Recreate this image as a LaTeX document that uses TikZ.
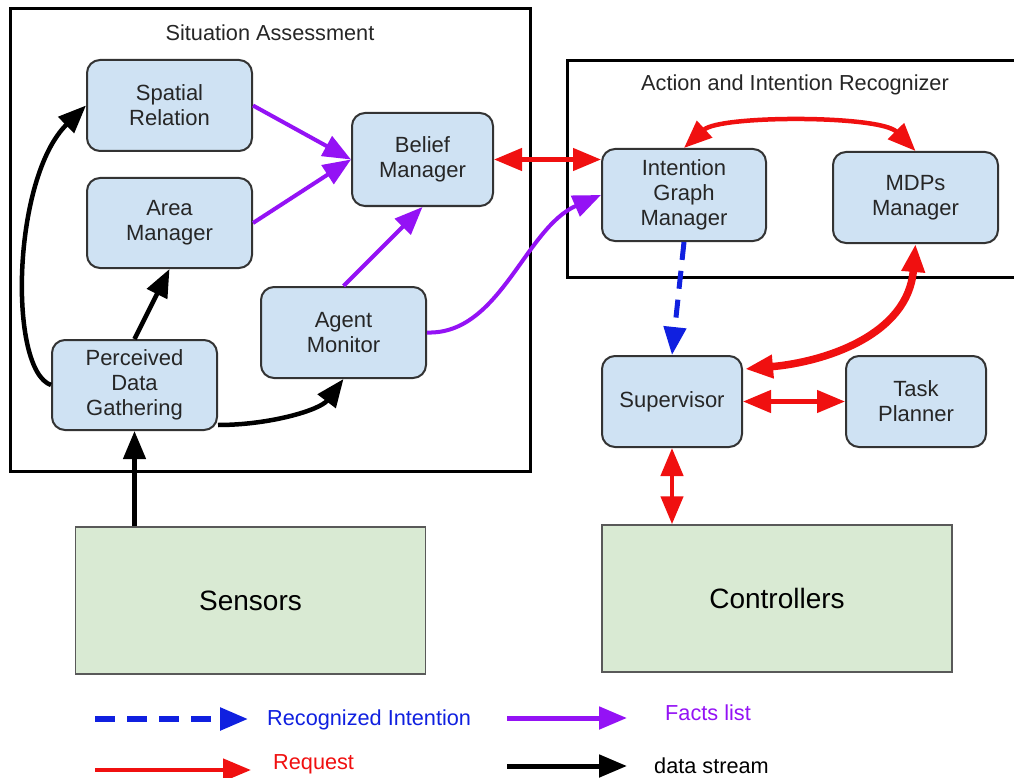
\documentclass[tikz,border=0pt]{standalone}
\usepackage{fontspec}
\setmainfont{Liberation Sans}
\usetikzlibrary{arrows.meta,calc}
\definecolor{boxblue}{HTML}{CFE2F3}
\definecolor{boxgreen}{HTML}{D9EAD3}
\definecolor{edgegray}{HTML}{333333}
\definecolor{factpurple}{HTML}{9412F5}
\definecolor{reqred}{HTML}{F01010}
\definecolor{intblue}{HTML}{1020E0}
\tikzset{
  x=1pt, y=1pt,
  comp/.style={draw=edgegray, line width=2pt, fill=boxblue, rounded corners=13pt,
    align=center, inner sep=0pt, text=black!85,
    font=\fontsize{22}{25}\selectfont},
  io/.style={draw=black!65, line width=1.5pt, fill=boxgreen, inner sep=0pt,
    minimum width=350pt, minimum height=147pt, font=\fontsize{28}{32}\selectfont},
  frame/.style={draw=black, line width=3pt},
  ftitle/.style={font=\fontsize{21.7}{24}\selectfont, text=black!85},
  tipa/.tip={Triangle[length=28pt,width=22pt]},
  facts/.style={draw=factpurple, line width=4pt, -tipa, fill=none},
  datas/.style={draw=black, line width=4.5pt, -tipa},
  reqs/.style={draw=reqred, line width=4.5pt, tipa-tipa},
  reqone/.style={draw=reqred, line width=4.5pt, -tipa},
  intent/.style={draw=intblue, line width=5pt, dash pattern=on 18pt off 11pt, -tipa},
  legtext/.style={font=\fontsize{21.7}{25}\selectfont, anchor=west, inner sep=0pt},
}
\begin{document}
\begin{tikzpicture}
\useasboundingbox (0,0) rectangle (1014,-778);
\fill[white] (0,0) rectangle (1014,-778);
\begin{scope}
\clip (0,0) rectangle (1014,-778);
% frames
\draw[frame] (10,-9) rectangle (530,-471);
\draw[frame] (567,-61) rectangle (1030,-277);
\end{scope}
\node[ftitle] (satitle) at (270,-33) {Situation Assessment};
\node[ftitle] (airtitle) at (795,-85) {Action and Intention Recognizer};

% components
\node[comp, minimum width=165pt, minimum height=91pt] (sp) at (169.5,-105.5) {Spatial\\Relation};
\node[comp, minimum width=165pt, minimum height=90pt] (am) at (169.5,-223) {Area\\Manager};
\node[comp, minimum width=141pt, minimum height=93pt] (bm) at (422.5,-159.5) {Belief\\Manager};
\node[comp, minimum width=165pt, minimum height=91pt] (ag) at (343.5,-332.5) {Agent\\Monitor};
\node[comp, minimum width=165pt, minimum height=90pt] (pd) at (134.5,-385) {Perceived\\Data\\Gathering};
\node[comp, minimum width=164pt, minimum height=92pt] (ig) at (684,-195) {Intention\\Graph\\Manager};
\node[comp, minimum width=165pt, minimum height=91pt] (md) at (915.5,-197.5) {MDPs\\Manager};
\node[comp, minimum width=140pt, minimum height=91pt] (sv) at (672,-401.5) {Supervisor};
\node[comp, minimum width=140pt, minimum height=91pt] (tp) at (916,-401.5) {Task\\Planner};
\node[io] (sn) at (250.5,-600.5) {Sensors};
\node[io] (ct) at (777,-598.5) {Controllers};

% facts list (purple)
\draw[facts] (sp.east) -- (bm.west);
\draw[facts] (am.east) -- (bm.west);
\draw[facts] (ag.north) -- (bm.south);
\draw[facts] (ag.east) .. controls (500,-335) and (525,-228) .. (ig.west);

% data stream (black)
\draw[datas] (pd.south |- sn.north) -- (pd.south);
\draw[datas] (pd.north) -- (am.south);
\draw[datas] (pd.west) .. controls (8,-370) and (12,-178) .. (sp.west);
\coordinate (pdout) at ($(pd.east)+(0,-40)$);
\draw[datas] (pdout) .. controls (270,-425) and (320,-410) .. (ag.south);

% requests (red)
\draw[reqs] (bm.east) -- (bm.east -| ig.west);
\draw[reqs] (ig.north) .. controls (720,-115) and (880,-115) .. (md.north);
\coordinate (svin) at ($(sv.north east)+(2,-14)$);
\draw[reqs, line width=7.5pt] (md.south) .. controls (908,-335) and (825,-362) .. (svin);
\draw[reqs] (sv.east) -- (tp.west);
\draw[reqs] (sv.south) -- (sv.south |- ct.north);

% recognized intention (blue dashed)
\draw[intent] (ig.south) -- (sv.north);

% legend
\coordinate (l1a) at (95,-719);
\coordinate (l1b) at (248,-719);
\coordinate (l2a) at (95,-770);
\coordinate (l2b) at (251,-770);
\coordinate (l3a) at (507,-718);
\coordinate (l3b) at (627,-718);
\coordinate (l4a) at (507,-766);
\coordinate (l4b) at (627,-766);
\draw[intent, line width=5.5pt, dash pattern=on 20pt off 12pt] (l1a) -- (l1b);
\draw[reqone] (l2a) -- (l2b);
\draw[facts, line width=5pt] (l3a) -- (l3b);
\draw[datas, line width=5pt] (l4a) -- (l4b);
\node[legtext, text=intblue] (t1) at (267,-720) {Recognized Intention};
\node[legtext, text=reqred] (t2) at (273,-764) {Request};
\node[legtext, text=factpurple] (t3) at (665,-713) {Facts list};
\node[legtext, text=black] (t4) at (654,-766) {data stream};
\end{tikzpicture}
\end{document}
